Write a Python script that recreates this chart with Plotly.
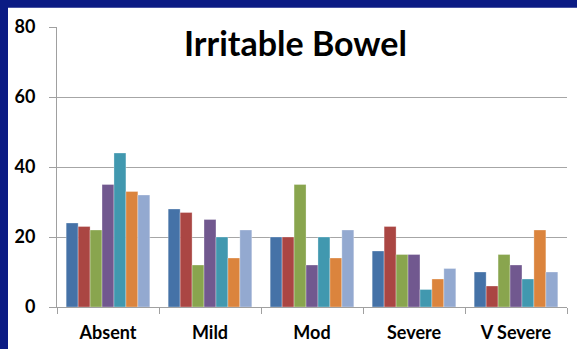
import plotly.graph_objects as go

# severity categories on the x axis
categories = ["Absent", "Mild", "Mod", "Severe", "V Severe"]

# one list per series
series_1 = [24, 28, 20, 16, 10]
series_2 = [23, 27, 20, 23, 6]
series_3 = [22, 12, 35, 15, 15]
series_4 = [35, 25, 12, 15, 12]
series_5 = [44, 20, 20, 5, 8]
series_6 = [33, 14, 14, 8, 22]
series_7 = [32, 22, 22, 11, 10]

series_names = ["Series 1", "Series 2", "Series 3", "Series 4", "Series 5", "Series 6", "Series 7"]
y_ticks = [0, 20, 40, 60, 80]

colors = ["#4572A7", "#AA4643", "#89A54E", "#71588F", "#4198AF", "#DB843D", "#93A9D0"]
font_family = "Lato, 'Open Sans', sans-serif"

fig = go.Figure()
all_series = [series_1, series_2, series_3, series_4, series_5, series_6, series_7]
for name, vals, col in zip(series_names, all_series, colors):
    fig.add_trace(go.Bar(x=categories, y=vals, name=name,
                         marker=dict(color=col, line=dict(color="rgba(255,255,255,0.6)", width=0.5))))

# navy frame round the white chart area
fig.add_shape(type="rect", xref="paper", yref="paper",
              x0=(8 - 57) / 510, x1=(590 - 57) / 510,
              y0=(306.7 - 360) / 280, y1=(306.7 - 7.5) / 280,
              fillcolor="white", line=dict(width=0), layer="below")

fig.add_annotation(text="Irritable Bowel", xref="paper", yref="paper",
                   x=(295.5 - 57) / 510, y=(306.7 - 42) / 280,
                   xanchor="center", yanchor="middle", showarrow=False,
                   font=dict(family=font_family, size=34, color="black", weight="bold"))

fig.update_layout(
    width=577, height=349,
    margin=dict(l=57, r=10, t=27, b=42),
    paper_bgcolor="#0B1B84", plot_bgcolor="white",
    barmode="group", bargap=0.18, bargroupgap=0,
    showlegend=False,
    font=dict(family=font_family, color="black"),
)
fig.update_xaxes(showline=True, linecolor="#A0A0A0", linewidth=1, automargin=False,
                 ticks="outside", tickson="boundaries", ticklen=6, tickcolor="#A0A0A0",
                 tickfont=dict(size=18, color="black", weight="bold"), ticklabelstandoff=9,
                 showgrid=False)
fig.update_yaxes(range=[0, 80], tickvals=y_ticks, showline=True, linecolor="#A0A0A0", linewidth=1,
                 automargin=False,
                 ticks="outside", ticklen=7, tickcolor="#A0A0A0",
                 gridcolor="#A6A6A6", gridwidth=1, zeroline=False,
                 tickfont=dict(size=18, color="black", weight="bold"), ticklabelstandoff=10)

# the page body has a default 8px margin; drop it so the chart sits at the corner
fig.write_html("out.html", config={"displayModeBar": False},
               post_script="document.body.style.margin='0';")
